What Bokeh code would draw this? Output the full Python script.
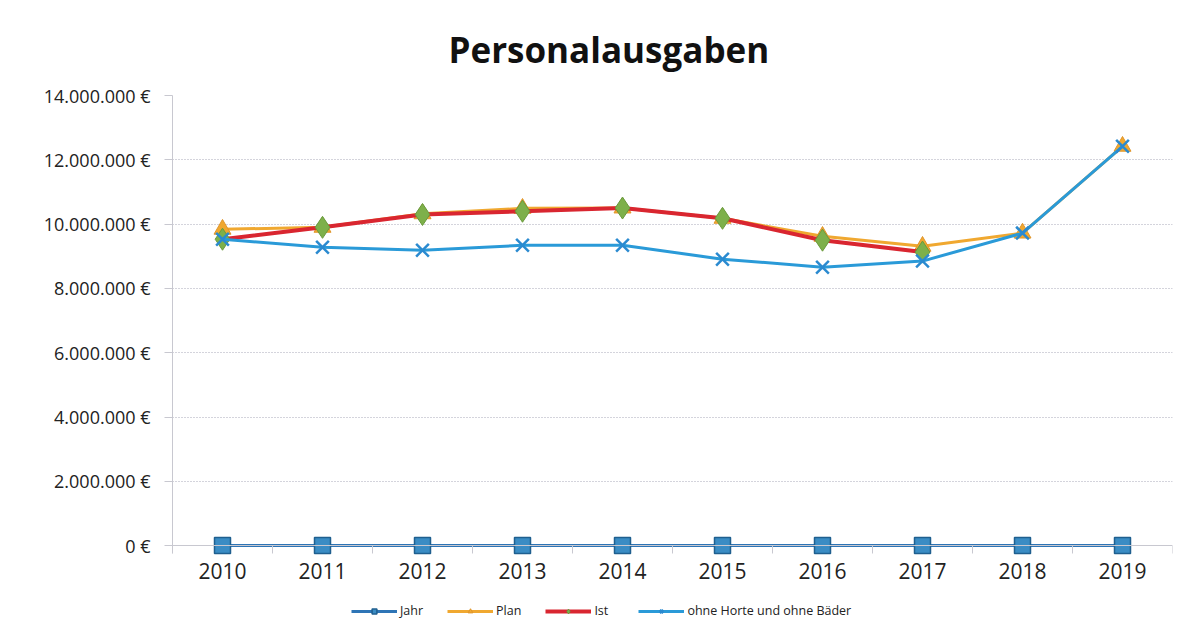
from bokeh.plotting import figure
from bokeh.models import Range1d, FixedTicker, Legend, LegendItem
from bokeh.embed import file_html
from bokeh.resources import INLINE

years = [2010, 2011, 2012, 2013, 2014, 2015, 2016, 2017, 2018, 2019]
jahr = [2010, 2011, 2012, 2013, 2014, 2015, 2016, 2017, 2018, 2019]
plan = [9840000, 9900000, 10320000, 10490000, 10500000, 10180000, 9620000, 9310000, 9720000, 12420000]
ist_years = [2010, 2011, 2012, 2013, 2014, 2015, 2016, 2017]
ist = [9530000, 9900000, 10300000, 10400000, 10500000, 10180000, 9500000, 9130000]
ohne = [9530000, 9280000, 9190000, 9340000, 9340000, 8910000, 8660000, 8850000, 9720000, 12420000]

y_ticks = [0, 2000000, 4000000, 6000000, 8000000, 10000000, 12000000, 14000000]
y_labels = ["0 €", "2.000.000 €", "4.000.000 €", "6.000.000 €", "8.000.000 €",
            "10.000.000 €", "12.000.000 €", "14.000.000 €"]
x_labels = [str(y) for y in years]

FONT = "Open Sans"

p = figure(width=1190, height=625, output_backend="svg", toolbar_location=None,
           x_range=Range1d(2009.5, 2019.5), y_range=Range1d(-2421000, 14000000),
           min_border_left=172, min_border_right=18, min_border_top=94, min_border_bottom=2)

p.title.text = "Personalausgaben"
p.title.text_font = FONT
p.title.text_font_size = "35px"
p.title.text_font_style = "bold"
p.title.text_color = "#111111"
p.title.align = "left"
p.title.offset = 276
p.title.standoff = 46
p.outline_line_color = None

# y axis
p.yaxis.ticker = FixedTicker(ticks=y_ticks)
p.yaxis.major_label_overrides = {t: l for t, l in zip(y_ticks, y_labels)}
p.yaxis.major_label_text_font = FONT
p.yaxis.major_label_text_font_size = "18px"
p.yaxis.major_label_text_color = "#222222"
p.yaxis.axis_line_color = "#c8c8d0"
p.yaxis.major_tick_line_color = "#c8c8d0"
p.yaxis.major_tick_out = 8
p.yaxis.major_tick_in = 0
p.yaxis.minor_tick_line_color = None
p.yaxis.major_label_standoff = 14
p.yaxis.bounds = (-250000, 14000000)

# x axis at zero
p.xaxis.fixed_location = 0
p.xaxis.ticker = FixedTicker(ticks=years, minor_ticks=[y + 0.5 for y in [2009] + years])
p.xaxis.major_label_overrides = {y: l for y, l in zip(years, x_labels)}
p.xaxis.major_label_text_font = FONT
p.xaxis.major_label_text_font_size = "21px"
p.xaxis.major_label_text_color = "#222222"
p.xaxis.axis_line_color = "#c8c8d0"
p.xaxis.major_tick_line_color = None
p.xaxis.major_tick_out = 0
p.xaxis.major_tick_in = 0
p.xaxis.minor_tick_line_color = "#c8c8d0"
p.xaxis.minor_tick_in = 0
p.xaxis.minor_tick_out = 8
p.xaxis.major_label_standoff = 9

p.xgrid.grid_line_color = None
p.ygrid.grid_line_color = "#a8a8b8"
p.ygrid.grid_line_dash = "1 2"
p.ygrid.grid_line_width = 1
p.ygrid.ticker = FixedTicker(ticks=y_ticks[1:])

# series
r1l = p.line(years, jahr, line_color="#2E75B6", line_width=3)
r1m = p.scatter(years, jahr, marker="square", size=16, fill_color="#3A8CC4",
                line_color="#1F5F8F", line_width=1.5)

r2l = p.line(years, plan, line_color="#F0A830", line_width=3)
r2m = p.scatter(years, plan, marker="triangle", size=17, fill_color="#F0A830",
                line_color="#E0952A", line_width=1)

r3l = p.line(ist_years, ist, line_color="#D92630", line_width=4)
r3m = p.scatter(ist_years, ist, marker="diamond", size=22, fill_color="#7DB04A",
                line_color="#6A9A3C", line_width=1)

r4l = p.line(years, ohne, line_color="#2A9AD8", line_width=3)
r4m = p.scatter(years, ohne, marker="x", size=18, line_color="#2A8AD0", line_width=2.5)

legend = Legend(items=[
    LegendItem(label="Jahr", renderers=[r1l, r1m]),
    LegendItem(label="Plan", renderers=[r2l, r2m]),
    LegendItem(label="Ist", renderers=[r3l, r3m]),
    LegendItem(label="ohne Horte und ohne Bäder", renderers=[r4l, r4m]),
], orientation="horizontal", location=(179, 4))
legend.label_text_font = FONT
legend.label_text_font_size = "12.5px"
legend.label_text_color = "#222222"
legend.glyph_width = 46
legend.glyph_height = 12
legend.spacing = 24
legend.label_standoff = 3
legend.border_line_color = None
legend.background_fill_alpha = 0
legend.margin = 0
legend.padding = 2
p.add_layout(legend)

open("out.html", "w").write(file_html(p, INLINE))
